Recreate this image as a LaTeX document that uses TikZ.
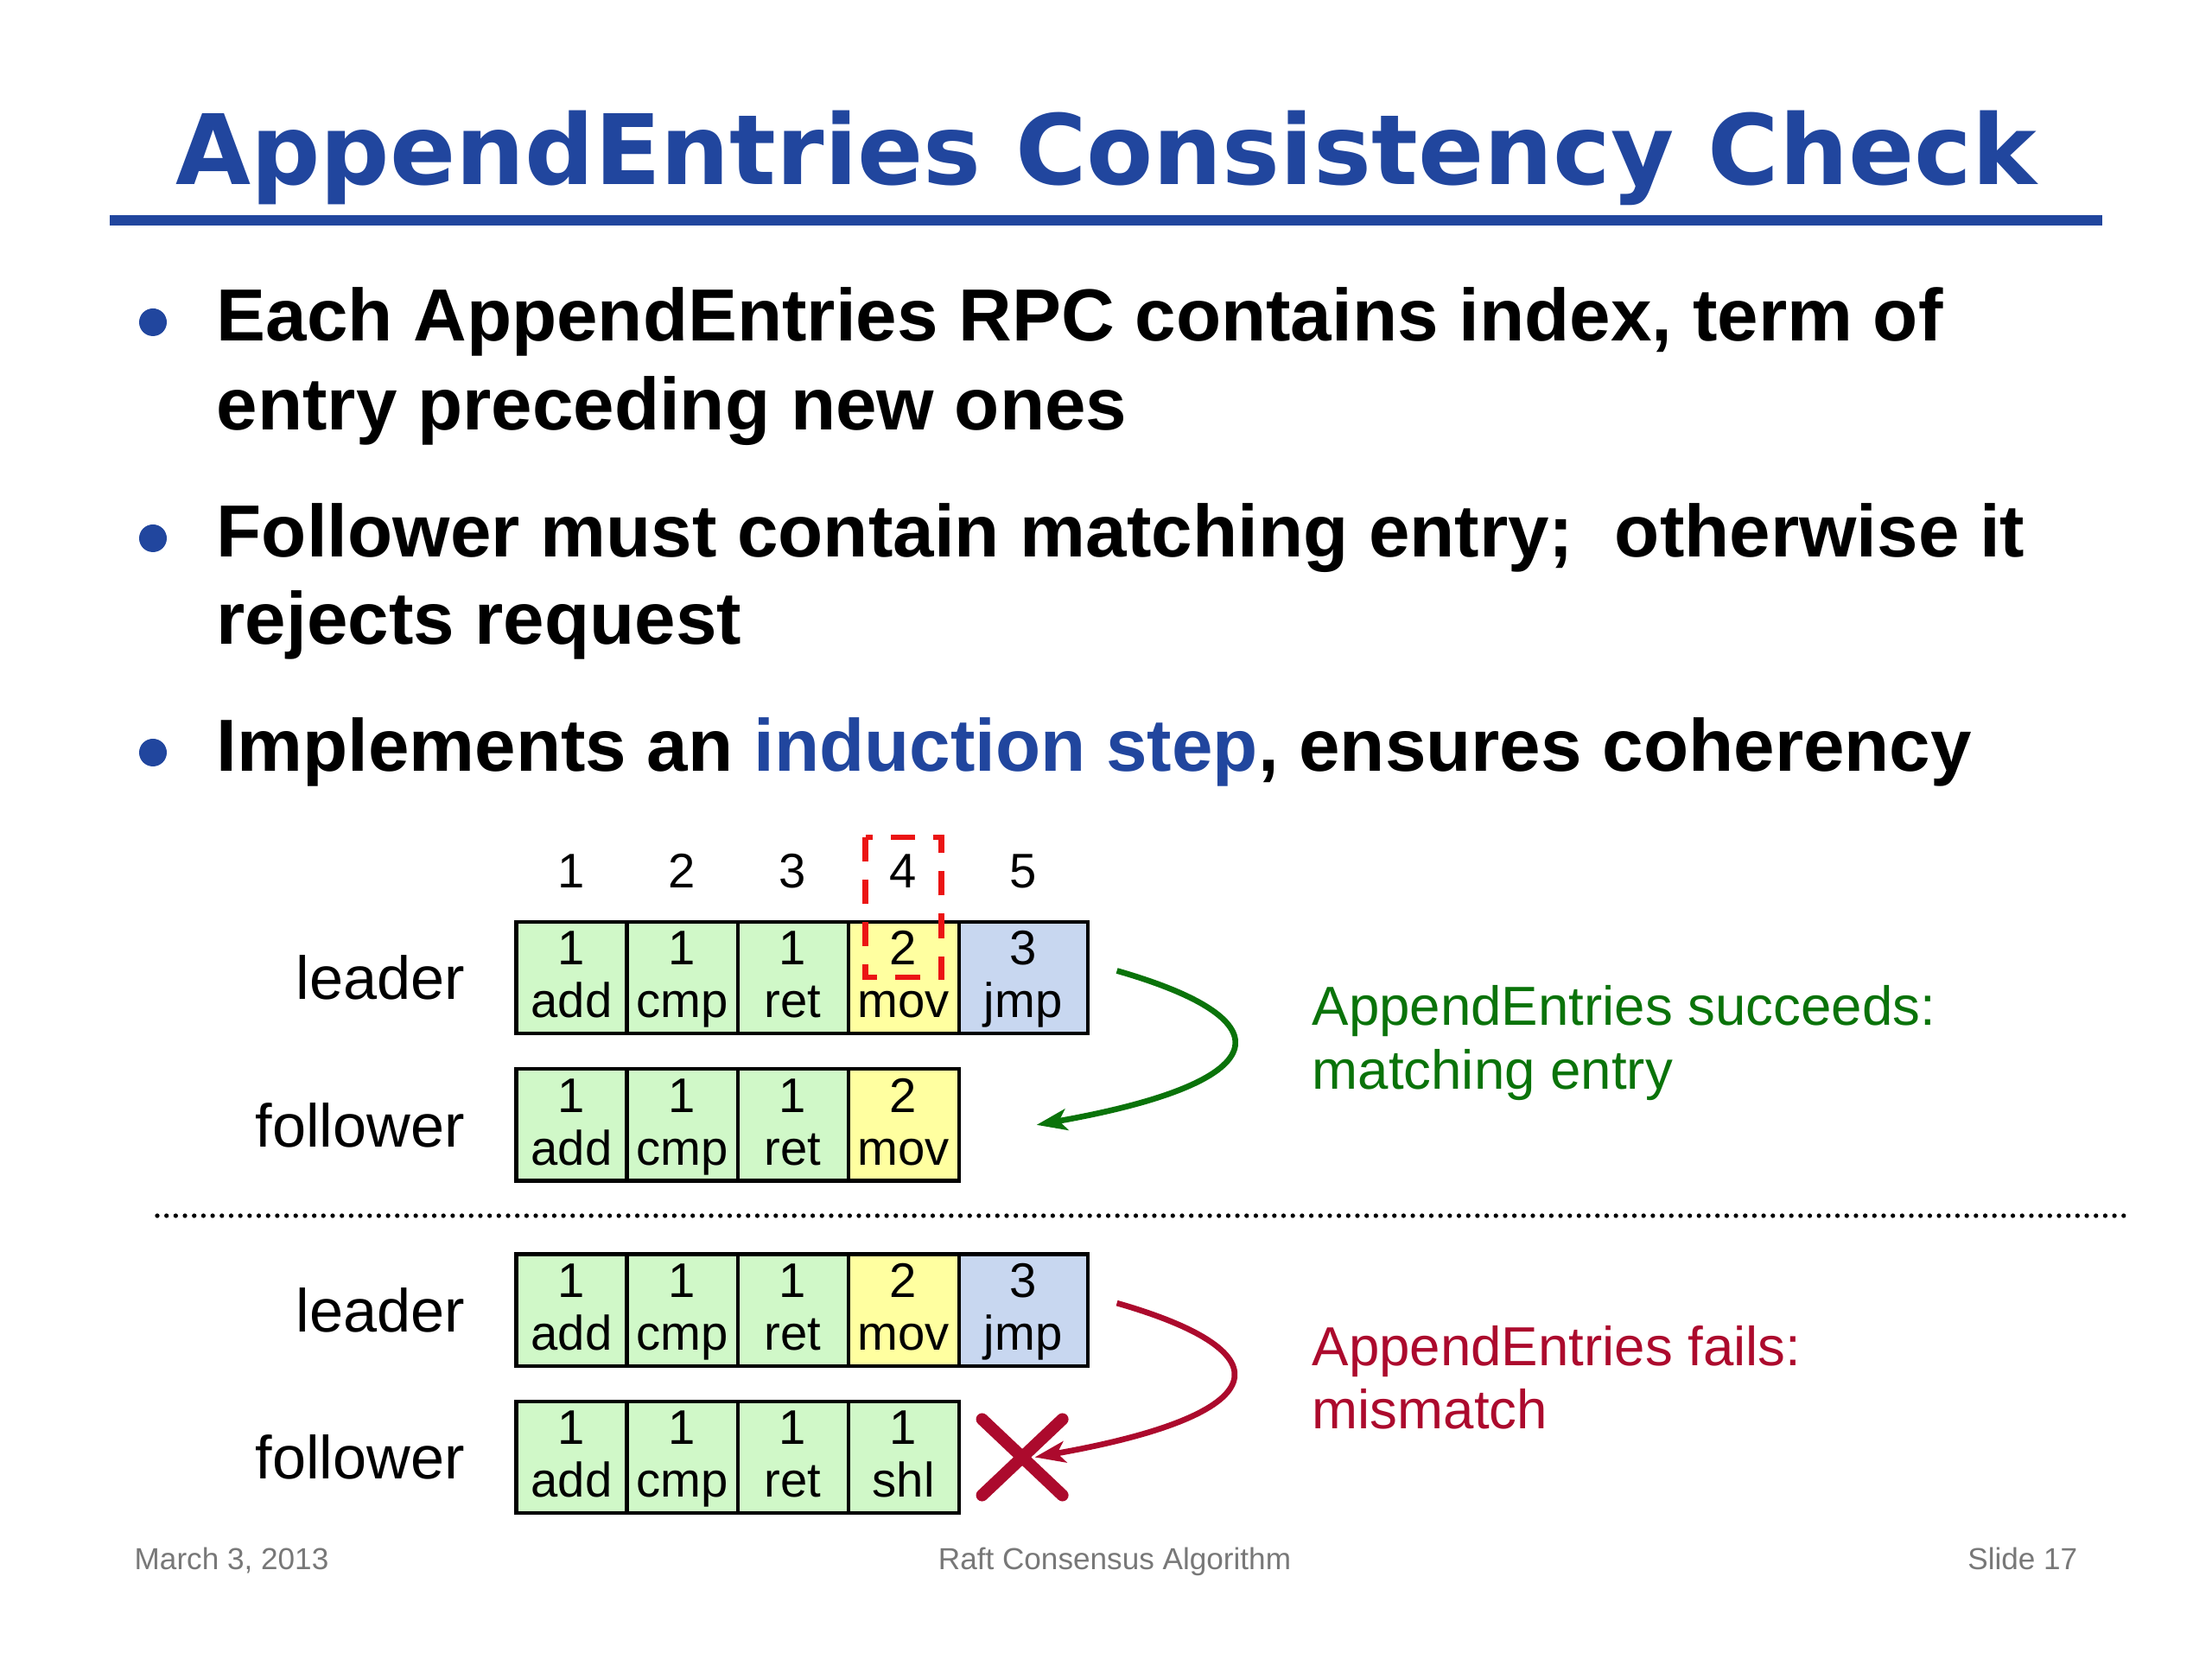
\documentclass[tikz,border=0pt]{standalone}
\usepackage{fontspec}
\setmainfont{Liberation Sans}
\newfontfamily\headfont{DejaVu Sans}
\usetikzlibrary{arrows.meta, positioning}

\definecolor{slideblue}{RGB}{33,70,158}
\definecolor{okgreen}{RGB}{10,115,10}
\definecolor{badred}{RGB}{172,10,45}
\definecolor{markred}{RGB}{235,20,20}
\definecolor{termone}{RGB}{208,248,200}
\definecolor{termtwo}{RGB}{255,255,160}
\definecolor{termthree}{RGB}{200,215,240}
\definecolor{footgray}{RGB}{120,120,120}

\newcommand{\logent}[2]{\rule{0pt}{14.2pt}#1\\\strut#2}

\begin{document}
\begin{tikzpicture}[
  node distance=0pt,
  cell/.style={draw, line width=1.2pt, outer sep=0pt, inner sep=0pt, align=center,
               minimum width=1.28cm, minimum height=1.29cm,
               font=\fontsize{16}{17.4}\selectfont},
  t1/.style={cell, fill=termone},
  t2/.style={cell, fill=termtwo},
  t3/.style={cell, fill=termthree, minimum width=1.49cm},
  idx/.style={font=\fontsize{16}{19}\selectfont, inner sep=0pt},
  who/.style={font=\fontsize{20}{24}\selectfont, inner sep=0pt},
  bullet/.style={anchor=base west, inner sep=0pt, font=\fontsize{24.3}{29}\selectfont\bfseries},
  bulletdot/.style={circle, fill=slideblue, inner sep=0pt, minimum size=0.32cm},
  note/.style={anchor=base west, inner sep=0pt, font=\fontsize{18.1}{21}\selectfont},
  foot/.style={anchor=base, inner sep=0pt, text=footgray, font=\fontsize{10}{12}\selectfont},
  markbox/.style={draw=markred, dash pattern=on 8pt off 6pt, line width=1.8pt},
  arr/.style={-{Stealth[length=10pt, width=7pt, inset=2.5pt]}, line width=1.9pt}
]
  \useasboundingbox (0,0) rectangle (25.6,19.2);

  % title
  \node[anchor=base, inner sep=0pt, text=slideblue,
        font=\headfont\bfseries\fontsize{32}{38}\selectfont] (title) at (12.8,17.06)
        {AppendEntries Consistency Check};
  \draw[slideblue, line width=3.4pt] (1.27,16.645) -- (24.33,16.645);

  % bullets
  \node[bulletdot] (d1) at (1.77,15.47) {};
  \node[bullet] (b1a) at (2.50,15.25) {Each AppendEntries RPC contains index, term of};
  \node[bullet] (b1b) at (2.50,14.22) {entry preceding new ones};
  \node[bulletdot] (d2) at (1.77,12.97) {};
  \node[bullet] (b2a) at (2.50,12.75) {Follower must contain matching entry;~ otherwise it};
  \node[bullet] (b2b) at (2.50,11.74) {rejects request};
  \node[bulletdot] (d3) at (1.77,10.49) {};
  \node[bullet] (b3) at (2.50,10.27)
    {Implements an \textcolor{slideblue}{induction step}, ensures coherency};

  % first case: logs match
  \node[t1] (la1) at (6.616,7.885) {\logent{1}{add}};
  \node[t1, right=of la1] (la2) {\logent{1}{cmp}};
  \node[t1, right=of la2] (la3) {\logent{1}{ret}};
  \node[t2, right=of la3] (la4) {\logent{2}{mov}};
  \node[t3, right=of la4] (la5) {\logent{3}{jmp}};

  \node[t1, below=0.41cm of la1] (fa1) {\logent{1}{add}};
  \node[t1, right=of fa1] (fa2) {\logent{1}{cmp}};
  \node[t1, right=of fa2] (fa3) {\logent{1}{ret}};
  \node[t2, right=of fa3] (fa4) {\logent{2}{mov}};

  \foreach \i in {1,...,5}
    \node[idx, above=0.39cm of la\i, anchor=base] (n\i) {\i};

  \node[who, left=0.59cm of la1] (wla) {leader};
  \node[who, left=0.59cm of fa1] (wfa) {follower};

  \draw[markbox] ([xshift=-0.44cm, yshift=0.98cm]la4.north)
    rectangle ([xshift=0.44cm, yshift=-0.64cm]la4.north);

  \draw[arr, okgreen] ([xshift=0.34cm, yshift=0.08cm]la5.east)
    to[out=-16, in=10, out distance=2.1cm, in distance=2.8cm] ([xshift=0.9cm]fa4.east);

  \node[note, text=okgreen] (ok1) at (15.18,7.33) {AppendEntries succeeds:};
  \node[note, text=okgreen] (ok2) at ([yshift=-20.8pt]ok1.base west) {matching entry};

  \draw[line width=1.5pt, line cap=round, dash pattern=on 0pt off 3.04pt, black]
    (1.82,5.13) -- (24.65,5.13);

  % second case: logs differ
  \node[t1, below=0.848cm of fa1] (lb1) {\logent{1}{add}};
  \node[t1, right=of lb1] (lb2) {\logent{1}{cmp}};
  \node[t1, right=of lb2] (lb3) {\logent{1}{ret}};
  \node[t2, right=of lb3] (lb4) {\logent{2}{mov}};
  \node[t3, right=of lb4] (lb5) {\logent{3}{jmp}};

  \node[t1, below=0.41cm of lb1] (fb1) {\logent{1}{add}};
  \node[t1, right=of fb1] (fb2) {\logent{1}{cmp}};
  \node[t1, right=of fb2] (fb3) {\logent{1}{ret}};
  \node[t1, right=of fb3] (fb4) {\logent{1}{shl}};

  \node[who, left=0.59cm of lb1] (wlb) {leader};
  \node[who, left=0.59cm of fb1] (wfb) {follower};

  \draw[arr, badred] ([xshift=0.34cm, yshift=0.08cm]lb5.east)
    to[out=-16, in=10, out distance=2.1cm, in distance=2.8cm] ([xshift=0.88cm]fb4.east);
  \draw[badred, line width=4pt, line cap=round]
    ([xshift=0.27cm, yshift=0.44cm]fb4.east) -- ([xshift=1.2cm, yshift=-0.44cm]fb4.east)
    ([xshift=0.27cm, yshift=-0.44cm]fb4.east) -- ([xshift=1.2cm, yshift=0.44cm]fb4.east);

  \node[note, text=badred] (bad1) at (15.18,3.395) {AppendEntries fails:};
  \node[note, text=badred] (bad2) at ([yshift=-20.8pt]bad1.base west) {mismatch};

  % footer
  \node[foot, anchor=base west] (date) at (1.55,1.03) {March 3, 2013};
  \node[foot] (talk) at (12.9,1.03) {Raft Consensus Algorithm};
  \node[foot, anchor=base east] (slide) at (24.05,1.03) {Slide 17};
\end{tikzpicture}
\end{document}
